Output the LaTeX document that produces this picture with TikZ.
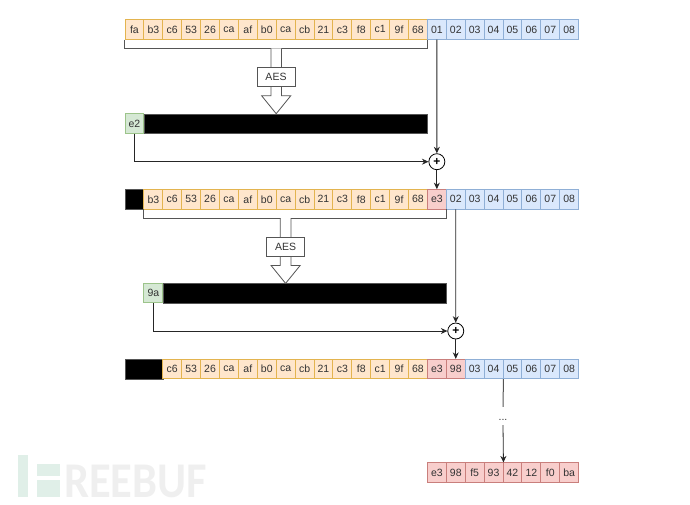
\documentclass[tikz,border=0pt]{standalone}
\usepackage{fontspec}
\setmainfont{Liberation Sans}
\newfontfamily\markfont{Carlito}
\usepackage{xcolor}
\usetikzlibrary{arrows.meta,shapes.geometric}

\definecolor{orgfill}{HTML}{FFE6CC}
\definecolor{orgline}{HTML}{E3B44F}
\definecolor{blufill}{HTML}{DAE8FC}
\definecolor{bluline}{HTML}{8FAFD6}
\definecolor{redfill}{HTML}{F8CECC}
\definecolor{redline}{HTML}{C97F7C}
\definecolor{grnfill}{HTML}{D5E8D4}
\definecolor{grnline}{HTML}{9CC48A}
\definecolor{linegray}{HTML}{555555}
\definecolor{markgrn}{HTML}{E0EFE8}
\definecolor{markgray}{HTML}{EFEFEF}

\begin{document}
\begin{tikzpicture}[
  x=1pt, y=-1pt,
  cell/.style={draw, line width=0.9pt, minimum width=18.9pt, minimum height=19.4pt, inner sep=0pt,
               text=black!80, font=\fontsize{10.5}{12}\selectfont},
  org/.style={cell, fill=orgfill, draw=orgline},
  blu/.style={cell, fill=blufill, draw=bluline},
  red/.style={cell, fill=redfill, draw=redline},
  grn/.style={cell, fill=grnfill, draw=grnline},
  bar/.style={draw=linegray, fill=black, minimum height=19.6pt, inner sep=0pt},
  aesbox/.style={draw=linegray, fill=white, line width=0.9pt, minimum width=38pt, minimum height=19pt,
                 inner sep=0pt, text=black!80, font=\fontsize{10.5}{12}\selectfont},
  xor/.style={circle, draw=black, fill=white, line width=0.8pt, minimum size=16pt, inner sep=0pt,
              font=\bfseries\fontsize{12}{12}\selectfont},
  brk/.style={draw=linegray, line width=1pt},
  arr/.style={-{Stealth[length=6.5pt,width=6pt]}, draw=black!85, line width=0.8pt},
  blockarr/.pic={
    \draw[draw=linegray, fill=white, line width=0.8pt]
      (-5.3,-65.4) -- (-5.3,-18) -- (-14.6,-18) -- (0,0) -- (14.6,-18) -- (5.3,-18) -- (5.3,-65.4);
  }
]
  \useasboundingbox (0,0) rectangle (690,504);

  % Watermark
  \fill[markgrn] (18,455) rectangle (28,497);
  \fill[markgrn] (37,463.5) rectangle (60,476);
  \fill[markgrn] (37,479.5) rectangle (60,497);
  \node[anchor=base west, inner sep=0pt, text=markgray, xscale=0.89,
        font=\markfont\bfseries\fontsize{50}{50}\selectfont]
    (mark) at (64,497) {REEBUF};

  % First row
  \foreach \t [count=\i] in {fa,b3,c6,53,26,ca,af,b0,ca,cb,21,c3,f8,c1,9f,68}
    \node[org] (a\i) at ({115.55+18.9*\i},29.4) {\t};
  \foreach \t [count=\i from 17] in {01,02,03,04,05,06,07,08}
    \node[blu] (a\i) at ({115.55+18.9*\i},29.4) {\t};

  % Second row
  \node[bar, minimum width=18.9pt] (bk) at (134.45,199.3) {};
  \foreach \t [count=\i from 2] in {b3,c6,53,26,ca,af,b0,ca,cb,21,c3,f8,c1,9f,68}
    \node[org] (b\i) at ({115.55+18.9*\i},199.3) {\t};
  \node[red] (b17) at (436.85,199.3) {e3};
  \foreach \t [count=\i from 18] in {02,03,04,05,06,07,08}
    \node[blu] (b\i) at ({115.55+18.9*\i},199.3) {\t};

  % Third row
  \node[bar, minimum width=37.8pt] (ck) at (143.9,369) {};
  \foreach \t [count=\i from 3] in {c6,53,26,ca,af,b0,ca,cb,21,c3,f8,c1,9f,68}
    \node[org] (c\i) at ({115.55+18.9*\i},369) {\t};
  \node[red] (c17) at (436.85,369) {e3};
  \node[red] (c18) at (455.75,369) {98};
  \foreach \t [count=\i from 19] in {03,04,05,06,07,08}
    \node[blu] (c\i) at ({115.55+18.9*\i},369) {\t};

  % Result row
  \foreach \t [count=\i] in {e3,98,f5,93,42,12,f0,ba}
    \node[red] (d\i) at ({417.95+18.9*\i},472.6) {\t};

  % AES outputs
  \node[grn] (ea) at (134.45,123.5) {e2};
  \node[bar, minimum width=283pt] (bara) at (285.5,123.5) {};
  \node[grn] (eb) at (153.35,293.2) {9a};
  \node[bar, minimum width=283pt] (barb) at (304.4,293.2) {};

  % Brackets
  \draw[brk] (a1.south west) -- ++(0,9.3) -| (a16.south east);
  \draw[brk] (b2.south west) -- ++(0,9.3) -| (b17.south east);

  % AES blocks
  \pic at (276.2,113.7) {blockarr};
  \pic at (285.6,283.4) {blockarr};
  \node[aesbox] (aesa) at (276,76.7) {AES};
  \node[aesbox] (aesb) at (285.6,246.5) {AES};

  % XOR nodes and paths
  \node[xor] (xa) at (436.85,161.7) {+};
  \node[xor] (xb) at (455.75,331) {+};
  \draw[arr] (a17.south) -- (xa.north);
  \draw[arr] (ea.south) |- (xa.west);
  \draw[arr] (xa.south) -- (b17.north);
  \draw[arr] (b18.south) -- (xb.north);
  \draw[arr] (eb.south) |- (xb.west);
  \draw[arr] (xb.south) -- (c18.north);

  % Continuation
  \node[inner sep=0pt, text height=13pt, text depth=5pt, text=black!80, font=\fontsize{10.5}{12}\selectfont]
    (dots) at (503,416) {...};
  \draw[brk] (c20.south east) -- (dots.north);
  \draw[arr] (dots.south) -- (d4.north east);
\end{tikzpicture}
\end{document}
